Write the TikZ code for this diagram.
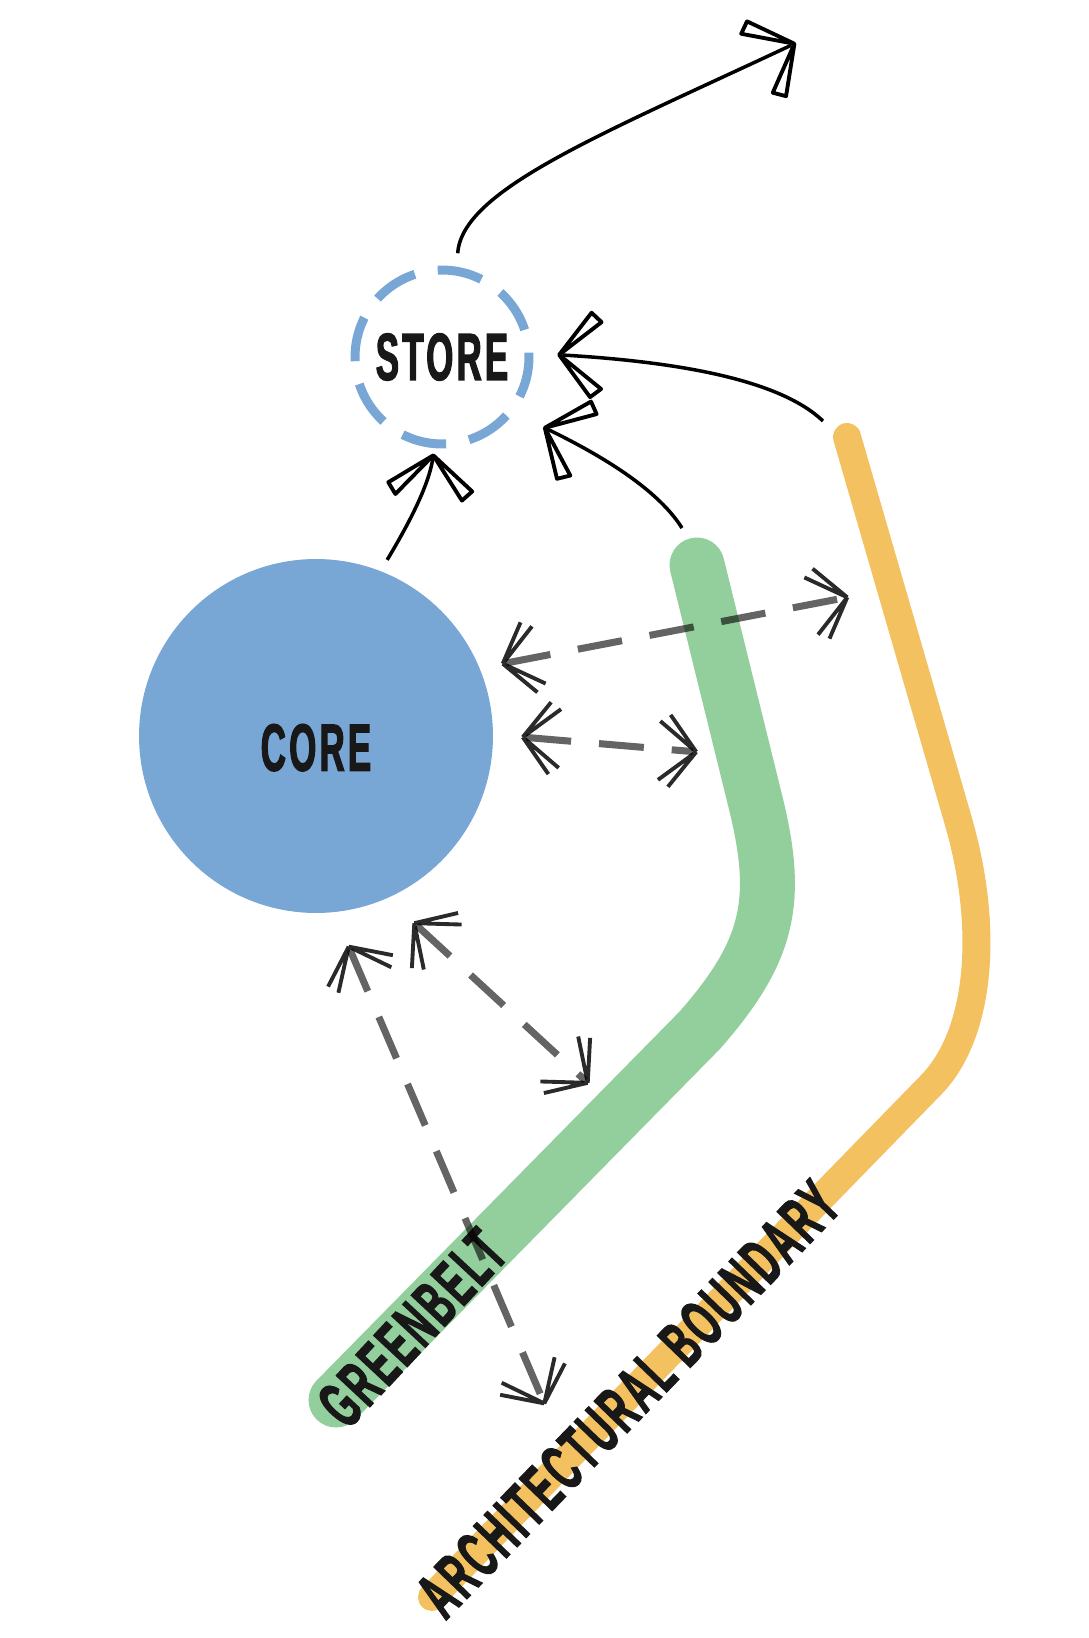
\documentclass[tikz,border=0pt]{standalone}
\usepackage{fontspec}
\usepackage{xcolor}
\usepackage{tikz}
\usetikzlibrary{arrows.meta}
\newfontfamily\bebas[FakeStretch=0.52,FakeBold=1.8,LetterSpace=5]{Liberation Sans}
\definecolor{coreblue}{RGB}{120,167,214}
\definecolor{beltgreen}{RGB}{147,207,157}
\definecolor{edgeorange}{RGB}{243,193,95}
\definecolor{dashgray}{RGB}{100,100,100}
\definecolor{inkgray}{RGB}{42,42,42}
\definecolor{inkblack}{RGB}{24,24,24}

\pgfdeclarearrow{
  name = Sketch,
  parameters = {},
  setup code = {
    \pgfarrowssettipend{1pt}
    \pgfarrowssetlineend{-2pt}
    \pgfarrowssetbackend{-26pt}
  },
  drawing code = {
    \pgfsetlinewidth{2.2pt}
    \pgfsetroundjoin
    \pgfpathmoveto{\pgfpointorigin}
    \pgfpathlineto{\pgfqpoint{-19pt}{23pt}}
    \pgfpathlineto{\pgfqpoint{-25pt}{18pt}}
    \pgfpathclose
    \pgfpathmoveto{\pgfpointorigin}
    \pgfpathlineto{\pgfqpoint{-17pt}{-25pt}}
    \pgfpathlineto{\pgfqpoint{-23pt}{-20pt}}
    \pgfpathclose
    \pgfusepathqstroke
  }
}

\begin{document}
\begin{tikzpicture}[x=0.02cm,y=-0.02cm,
  tag/.style={font=\bebas\bfseries\fontsize{38pt}{40pt}\selectfont,text=inkblack,inner sep=0pt},
  band/.style={line cap=round,line join=round},
  link/.style={-{Sketch[color=black]},line width=2pt,black},
  twoway/.style={{Sketch[color=inkgray]}-{Sketch[color=inkgray]},line width=4pt,dashgray,
    dash pattern=on 0.9cm off 0.56cm,blend mode=multiply}]
  \useasboundingbox (0,0) rectangle (1088,1638);
  \draw[band,beltgreen,line width=1.1cm] (697,565) -- (755,800) .. controls (780,900) and (770,950) .. (700,1030) -- (336,1400);
  \draw[band,edgeorange,line width=0.56cm] (847,437) -- (958,820) .. controls (990,930) and (980,1035) .. (931,1085) -- (432,1597);
  \node[tag,circle,fill=coreblue,minimum size=7.08cm,text height=1.4cm,outer sep=0.26cm] (core) at (316,736) {CORE};
  \node[tag,circle,draw=coreblue,line width=0.18cm,dash pattern=on 0.9cm off 0.466cm,dash phase=0.813cm,
    minimum size=3.48cm,outer sep=0.2cm] (store) at (442,357) {STORE};
  \node[tag,rotate=47] (belt) at (412,1328) {GREENBELT};
  \node[tag,rotate=46,font=\bebas\bfseries\fontsize{38pt}{40pt}\selectfont] (boundary) at (628,1399) {ARCHITECTURAL BOUNDARY};
  \coordinate (sky) at (796,43);
  \coordinate (beltend) at (682,528);
  \coordinate (edgeend) at (823,421);
  \draw[link,shorten <=0.16cm] (store.81.5) .. controls (462,190) and (600,135) .. (sky);
  \draw[link] (core.68) .. controls (402,535) and (428,490) .. (store.-95.6);
  \draw[link,shorten >=0.53cm] (beltend) .. controls (655,485) and (590,450) .. (store.-37);
  \draw[link,shorten >=0.37cm] (edgeend) .. controls (780,380) and (680,362) .. (store.2);
  \coordinate (l1) at (501,664);
  \coordinate (r1) at (849,597);
  \coordinate (l2) at (521,737);
  \coordinate (r2) at (698,752);
  \coordinate (u1) at (413,922);
  \coordinate (d1) at (589,1084);
  \coordinate (u2) at (348,945);
  \coordinate (d2) at (545,1405);
  \foreach \a/\b in {l1/r1,l2/r2,u1/d1,u2/d2} { \draw[twoway] (\a) -- (\b); }
\end{tikzpicture}
\end{document}
